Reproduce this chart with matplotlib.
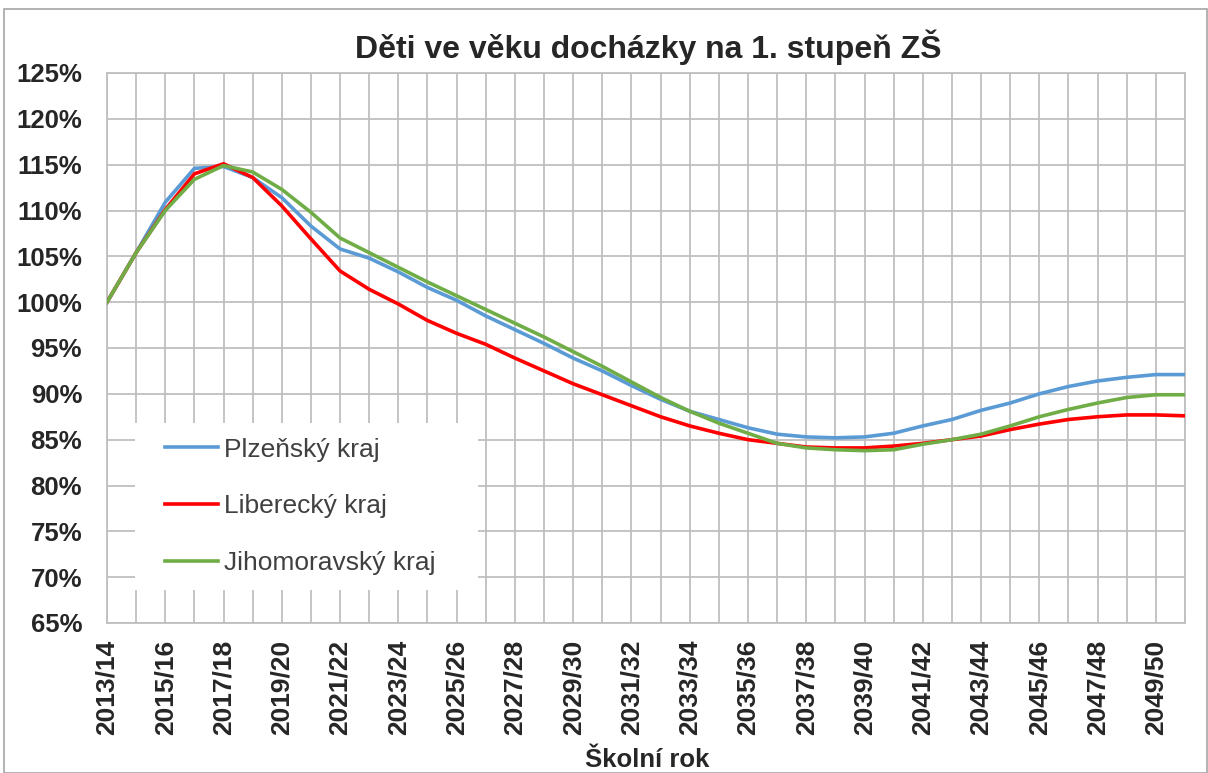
import matplotlib.pyplot as plt
from matplotlib.patches import Rectangle
from matplotlib.ticker import FuncFormatter, MultipleLocator

plt.rcParams['font.family'] = ['Liberation Sans', 'DejaVu Sans']

# school years 2013/14 .. 2050/51
years = [f'{y}/{(y + 1) % 100:02d}' for y in range(2013, 2051)]

plzensky = [100.0, 105.4, 110.9, 114.6, 114.8, 113.6, 111.4, 108.3, 105.8, 104.8,
            103.3, 101.6, 100.2, 98.5, 97.0, 95.5, 93.9, 92.5, 90.9, 89.4,
            88.1, 87.2, 86.3, 85.6, 85.3, 85.2, 85.3, 85.7, 86.5, 87.2,
            88.2, 89.0, 90.0, 90.8, 91.4, 91.8, 92.1, 92.1]
liberecky = [100.0, 105.4, 110.1, 114.0, 115.1, 113.6, 110.5, 106.9, 103.4, 101.4,
             99.8, 98.0, 96.6, 95.4, 93.9, 92.5, 91.1, 89.9, 88.7, 87.5,
             86.5, 85.7, 85.0, 84.6, 84.2, 84.1, 84.1, 84.3, 84.6, 85.0,
             85.4, 86.1, 86.7, 87.2, 87.5, 87.7, 87.7, 87.6]
jihomoravsky = [100.0, 105.4, 110.0, 113.4, 114.9, 114.2, 112.3, 109.8, 107.0, 105.4,
                103.8, 102.2, 100.7, 99.2, 97.7, 96.2, 94.6, 93.0, 91.3, 89.6,
                88.1, 86.8, 85.7, 84.6, 84.1, 83.9, 83.8, 83.9, 84.5, 85.0,
                85.6, 86.5, 87.5, 88.3, 89.0, 89.6, 89.9, 89.9]

series = [
    ('Plzeňský kraj', plzensky, '#5B9BD5'),
    ('Liberecký kraj', liberecky, '#FF0000'),
    ('Jihomoravský kraj', jihomoravsky, '#70AD47'),
]

W, H = 1208, 773
fig = plt.figure(figsize=(W / 100, H / 100), dpi=100)
ax = fig.add_axes([107 / W, 1 - 623 / H, (1185 - 107) / W, (623 - 73) / H])

x = list(range(len(years)))
for name, vals, col in series:
    ax.plot(x, vals, color=col, lw=2.6, label=name, solid_joinstyle='round', zorder=3)

ax.set_xlim(0, len(years) - 1)
ax.set_ylim(65, 125)
ax.yaxis.set_major_locator(MultipleLocator(5))
ax.yaxis.set_major_formatter(FuncFormatter(lambda v, p: f'{v:.0f}%'))
ax.set_xticks(x)
ax.set_xticklabels([y if i % 2 == 0 else '' for i, y in enumerate(years)],
                   rotation=90, fontsize=19, fontweight='bold', color='#262626')
ax.tick_params(axis='x', length=0, pad=12)
ax.tick_params(axis='y', length=0, pad=18, labelsize=18.5, labelcolor='#262626')
for lbl in ax.get_yticklabels():
    lbl.set_fontweight('bold')

ax.grid(True, color='#BFBFBF', lw=1.3)
ax.set_axisbelow(True)
for s in ax.spines.values():
    s.set_color('#BFBFBF')
    s.set_linewidth(1.3)

fig.text(648 / W, 1 - 47 / H, 'Děti ve věku docházky na 1. stupeň ZŠ',
         ha='center', va='center', fontsize=23, fontweight='bold', color='#262626')
fig.text(647 / W, 1 - 760 / H, 'Školní rok', ha='center', va='center',
         fontsize=18.5, fontweight='bold', color='#262626')

# white legend area hiding the grid
ax.add_patch(Rectangle(((135 - 107) / 1078, (623 - 590) / 550), (478 - 135) / 1078,
                       (590 - 423) / 550, transform=ax.transAxes,
                       facecolor='white', edgecolor='none', zorder=1))
leg = ax.legend(loc='center left', bbox_to_anchor=((165 - 107) / 1078, (623 - 506.5) / 550),
                frameon=False, fontsize=19, labelspacing=1.25,
                handlelength=2.0, handletextpad=0.25, borderpad=0, borderaxespad=0)
for t in leg.get_texts():
    t.set_color('#404040')

fig.patches.append(Rectangle((4 / W, 0), (W - 5) / W, 1 - 9 / H, transform=fig.transFigure,
                             fill=False, edgecolor='#A6A6A6', lw=1.2))

fig.savefig('out.png', dpi=100)
